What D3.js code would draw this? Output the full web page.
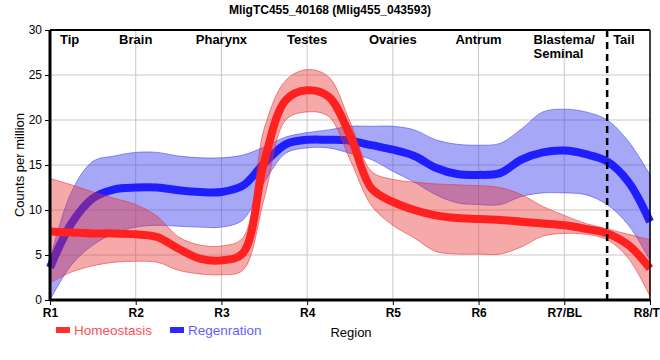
<!DOCTYPE html>
<html>
<head>
<meta charset="utf-8">
<script src="https://cdn.jsdelivr.net/npm/d3@7"></script>
<style>
  body { margin: 0; background: #fff; }
  svg { display: block; font-family: "Liberation Sans", Arial, sans-serif; }
</style>
</head>
<body>
<div id="chart"></div>
<script>
const regions = ["R1", "R2", "R3", "R4", "R5", "R6", "R7/BL", "R8/TL"];
const tissues = ["Tip", "Brain", "Pharynx", "Testes", "Ovaries", "Antrum", "Blastema/|Seminal", "Tail"];
const yTicks = [0, 5, 10, 15, 20, 25, 30];

// sample positions along the body axis (in region units, R1 = 0 ... R8 = 7)
const pos = [0, 0.25, 0.5, 0.75, 1, 1.25, 1.5, 1.75, 2, 2.25, 2.5, 2.75, 3, 3.25, 3.5,
             3.75, 4, 4.25, 4.5, 4.75, 5, 5.25, 5.5, 5.75, 6, 6.25, 6.5, 6.75, 7];

const homeoMean  = [7.6, 7.5, 7.4, 7.4, 7.3, 7.0, 5.7, 4.6, 4.4, 5.2, 15.4, 22.2, 23.3, 22.6, 18.3,
                    12.4, 10.9, 10.0, 9.4, 9.1, 9.0, 8.9, 8.7, 8.5, 8.3, 7.9, 7.4, 6.1, 3.5];
const homeoUpper = [13.5, 12.8, 12.0, 11.3, 10.6, 9.3, 7.0, 6.1, 6.0, 6.9, 19.1, 24.4, 25.6, 24.8, 19.8,
                    14.3, 13.4, 13.1, 12.9, 12.8, 12.7, 12.5, 11.7, 10.4, 9.4, 8.5, 7.9, 7.3, 6.7];
const homeoLower = [1.9, 3.1, 3.8, 4.2, 4.3, 4.2, 3.3, 2.9, 2.8, 3.3, 11.3, 20.0, 20.9, 20.4, 15.6,
                    10.5, 8.3, 6.9, 5.4, 5.1, 5.1, 5.1, 5.9, 7.1, 7.4, 7.3, 6.7, 4.6, 0.4];

const regenMean  = [3.6, 8.5, 11.3, 12.3, 12.5, 12.5, 12.2, 12.0, 12.0, 12.7, 15.2, 17.3, 17.8, 17.8, 17.7,
                    17.2, 16.7, 16.0, 14.7, 14.0, 13.9, 14.1, 15.6, 16.4, 16.6, 16.2, 15.4, 13.1, 8.7];
const regenUpper = [4.5, 12.0, 15.4, 16.0, 16.4, 16.4, 16.0, 15.8, 15.8, 16.1, 17.0, 18.1, 18.6, 18.9, 19.3,
                    19.3, 19.3, 18.9, 17.8, 17.3, 17.2, 17.4, 19.0, 20.9, 21.2, 20.9, 20.0, 17.6, 13.9];
const regenLower = [0.0, 3.9, 6.1, 7.4, 8.1, 8.3, 8.2, 8.1, 8.1, 8.9, 13.1, 16.3, 16.9, 16.9, 16.3,
                    15.6, 14.3, 13.1, 11.7, 10.8, 10.6, 10.6, 11.5, 11.9, 11.9, 11.7, 10.6, 8.3, 4.4];

const W = 660, H = 360;
const margin = {top: 30, right: 10, bottom: 60, left: 50};
const width = W - margin.left - margin.right;
const height = H - margin.top - margin.bottom;

const svg = d3.select("#chart").append("svg")
  .attr("width", W).attr("height", H);

const g = svg.append("g")
  .attr("transform", `translate(${margin.left},${margin.top})`);

const x = d3.scaleLinear().domain([0, regions.length - 1]).range([0, width]);
const y = d3.scaleLinear().domain([0, 30]).range([height, 0]);

// grid
g.append("g").selectAll("line").data(yTicks.slice(1, -1)).join("line")
  .attr("x1", 0).attr("x2", width)
  .attr("y1", d => y(d)).attr("y2", d => y(d))
  .attr("stroke", "#c8c8c8").attr("stroke-width", 1);
g.append("g").selectAll("line").data(d3.range(1, regions.length - 1)).join("line")
  .attr("x1", d => x(d)).attr("x2", d => x(d))
  .attr("y1", 0).attr("y2", height)
  .attr("stroke", "#c8c8c8").attr("stroke-width", 1);

const curve = d3.curveCatmullRom.alpha(0.5);
const area = (up, lo) => d3.area()
  .x((d, i) => x(pos[i])).y0((d, i) => y(lo[i])).y1((d, i) => y(up[i]))
  .curve(curve)(up);
const line = vals => d3.line().x((d, i) => x(pos[i])).y(d => y(d)).curve(curve)(vals);

// regeneration
g.append("path").attr("d", area(regenUpper, regenLower))
  .attr("fill", "rgba(60,60,240,0.45)")
  .attr("stroke", "rgba(60,60,240,0.55)").attr("stroke-width", 1);
g.append("path").attr("d", line(regenMean))
  .attr("fill", "none").attr("stroke", "#1e1eff").attr("stroke-width", 8);

// homeostasis
g.append("path").attr("d", area(homeoUpper, homeoLower))
  .attr("fill", "rgba(230,50,50,0.42)")
  .attr("stroke", "rgba(230,50,50,0.55)").attr("stroke-width", 1);
g.append("path").attr("d", line(homeoMean))
  .attr("fill", "none").attr("stroke", "#ff2020").attr("stroke-width", 8);

// frame
g.append("line").attr("x1", 0).attr("x2", width).attr("y1", 0).attr("y2", 0)
  .attr("stroke", "#000").attr("stroke-width", 2);
g.append("line").attr("x1", width).attr("x2", width).attr("y1", 0).attr("y2", height)
  .attr("stroke", "#000").attr("stroke-width", 1.5);

// dashed divider between R7 and R8
g.append("line")
  .attr("x1", x(6.5)).attr("x2", x(6.5)).attr("y1", 0).attr("y2", height)
  .attr("stroke", "#000").attr("stroke-width", 2.5).attr("stroke-dasharray", "7,5");

// axes
const yAxis = g.append("g").call(d3.axisLeft(y).tickValues(yTicks).tickSize(5).tickPadding(3));
yAxis.select(".domain").attr("stroke-width", 3).attr("d", `M0,${height}V0`);
yAxis.selectAll("text").attr("font-size", 12).attr("fill", "#000").attr("font-family", null);

const xAxis = g.append("g").attr("transform", `translate(0,${height})`)
  .call(d3.axisBottom(x).tickValues(d3.range(regions.length)).tickFormat(i => regions[i]).tickSize(5).tickPadding(3));
xAxis.select(".domain").attr("stroke-width", 3).attr("d", `M0,0H${width}`);
xAxis.selectAll("text").attr("font-size", 12).attr("font-weight", "bold").attr("fill", "#000").attr("font-family", null);

// tissue labels along the top
const tissueG = g.append("g").attr("font-size", 13).attr("font-weight", "bold").attr("fill", "#000");
tissues.forEach((t, i) => {
  const parts = t.split("|");
  if (i === 0) {
    tissueG.append("text").attr("x", x(0) + 10).attr("y", 14).text(t);
  } else if (i === tissues.length - 1) {
    tissueG.append("text").attr("x", x(6.5) + 6).attr("y", 14).text(t);
  } else if (parts.length > 1) {
    const first = tissueG.append("text").attr("x", x(i)).attr("y", 14)
      .attr("text-anchor", "middle").text(parts[0]);
    const left = x(i) - first.node().getComputedTextLength() / 2;
    tissueG.append("text").attr("x", left).attr("y", 28).text(parts[1]);
  } else {
    tissueG.append("text").attr("x", x(i)).attr("y", 14).attr("text-anchor", "middle").text(t);
  }
});

// title
svg.append("text").attr("x", 330).attr("y", 14).attr("text-anchor", "middle")
  .attr("font-size", 12).attr("font-weight", "bold").text("MligTC455_40168 (Mlig455_043593)");

// y title
svg.append("text")
  .attr("transform", `translate(24,${margin.top + height / 2}) rotate(-90)`)
  .attr("text-anchor", "middle").attr("font-size", 13).text("Counts per million");

// x title
svg.append("text").attr("x", margin.left + width / 2 + 1).attr("y", 337)
  .attr("text-anchor", "middle").attr("font-size", 13).text("Region");

// legend
const legend = [
  {name: "Homeostasis", sw: "#ff3030", tc: "#ff4d5a", x: 56},
  {name: "Regenration", sw: "#2a2aff", tc: "#5f5fff", x: 170}
];
legend.forEach(l => {
  svg.append("rect").attr("x", l.x).attr("y", 327).attr("width", 14).attr("height", 6).attr("fill", l.sw);
  svg.append("text").attr("x", l.x + 18).attr("y", 335).attr("font-size", 13.5)
    .attr("fill", l.tc).text(l.name);
});
</script>
</body>
</html>
